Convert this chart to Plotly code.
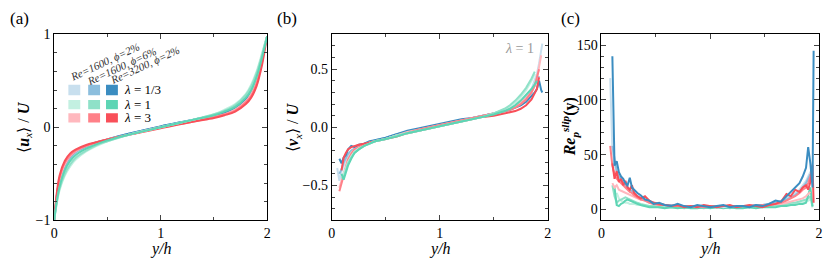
import plotly.graph_objects as go

# ---------------- data ----------------
colors = {
    "B1": "#c8dfee", "B2": "#8cbedd", "B3": "#3b8dc1",
    "G1": "#c3f0e1", "G2": "#8fe1c8", "G3": "#5dd5b4",
    "R1": "#ffb8be", "R2": "#ff8088", "R3": "#f94f59",
}
draw_order = ["B1", "B2", "B3", "R1", "R2", "R3", "G1", "G2", "G3"]

# panel (a): <u_x>/U
xa = [0, 0.02, 0.05, 0.1, 0.15, 0.2, 0.3, 0.4, 0.5, 0.7, 1.0, 1.3, 1.5, 1.6, 1.7, 1.8, 1.85, 1.9, 1.95, 1.98, 2.0]
ua = {
    "R3": [-1, -0.75, -0.52, -0.36, -0.28, -0.24, -0.19, -0.16, -0.13, -0.08, -0.01, 0.06, 0.10, 0.13, 0.17, 0.25, 0.32, 0.44, 0.66, 0.85, 0.98],
    "R2": [-1, -0.77, -0.55, -0.38, -0.30, -0.25, -0.20, -0.16, -0.13, -0.08, 0.00, 0.06, 0.11, 0.14, 0.18, 0.27, 0.34, 0.47, 0.69, 0.87, 0.98],
    "R1": [-1, -0.78, -0.57, -0.40, -0.31, -0.26, -0.20, -0.17, -0.13, -0.08, 0.00, 0.07, 0.11, 0.14, 0.19, 0.28, 0.36, 0.49, 0.71, 0.88, 0.98],
    "B3": [-1, -0.78, -0.56, -0.40, -0.31, -0.26, -0.20, -0.16, -0.13, -0.07, 0.01, 0.08, 0.13, 0.16, 0.21, 0.30, 0.38, 0.52, 0.73, 0.89, 0.98],
    "B2": [-1, -0.80, -0.58, -0.42, -0.33, -0.27, -0.21, -0.17, -0.13, -0.07, 0.01, 0.08, 0.13, 0.16, 0.21, 0.31, 0.39, 0.53, 0.74, 0.89, 0.98],
    "B1": [-1, -0.81, -0.60, -0.44, -0.34, -0.28, -0.21, -0.17, -0.13, -0.07, 0.01, 0.08, 0.13, 0.17, 0.22, 0.32, 0.41, 0.55, 0.76, 0.90, 0.98],
    "G3": [-1, -0.82, -0.64, -0.46, -0.36, -0.30, -0.23, -0.18, -0.14, -0.08, 0.00, 0.08, 0.13, 0.17, 0.22, 0.32, 0.40, 0.54, 0.74, 0.88, 0.98],
    "G2": [-1, -0.84, -0.66, -0.50, -0.40, -0.33, -0.25, -0.19, -0.15, -0.08, 0.00, 0.08, 0.14, 0.18, 0.24, 0.35, 0.44, 0.58, 0.77, 0.90, 0.98],
    "G1": [-1, -0.85, -0.68, -0.52, -0.42, -0.35, -0.26, -0.20, -0.15, -0.08, 0.00, 0.08, 0.14, 0.19, 0.25, 0.36, 0.46, 0.60, 0.79, 0.91, 0.98],
}

# panel (b): <v_x>/U
xb = [0.05, 0.07, 0.09, 0.11, 0.13, 0.15, 0.18, 0.21, 0.25, 0.30, 0.35, 0.40, 0.50, 0.60, 0.70, 0.80, 0.90, 1.00,
      1.10, 1.20, 1.30, 1.40, 1.50, 1.60, 1.65, 1.70, 1.75, 1.80, 1.85, 1.88, 1.90, 1.92, 1.94, 1.95]
vb = {
    "B1": [-0.35, -0.46, -0.38, -0.32, -0.28, -0.25, -0.22, -0.19, -0.17, -0.15, -0.13, -0.12, -0.09, -0.07, -0.04, -0.02, 0.00, 0.02,
           0.04, 0.06, 0.08, 0.10, 0.12, 0.15, 0.17, 0.19, 0.22, 0.26, 0.33, 0.40, 0.46, 0.55, 0.68, 0.72],
    "B2": [None, -0.40, -0.36, -0.30, -0.26, -0.23, -0.20, -0.18, -0.16, -0.14, -0.13, -0.11, -0.09, -0.06, -0.04, -0.02, 0.00, 0.02,
           0.04, 0.06, 0.08, 0.10, 0.12, 0.15, 0.16, 0.18, 0.21, 0.25, 0.31, 0.36, 0.40, 0.44, None, None],
    "B3": [None, -0.27, -0.31, -0.26, -0.24, -0.19, -0.16, -0.17, -0.15, -0.14, -0.12, -0.11, -0.09, -0.06, -0.03, -0.01, 0.01, 0.03,
           0.05, 0.07, 0.08, 0.10, 0.12, 0.14, 0.15, 0.17, 0.19, 0.22, 0.27, 0.30, 0.33, 0.40, 0.32, 0.30],
    "R1": [None, -0.52, -0.46, -0.38, -0.32, -0.27, -0.22, -0.19, -0.17, -0.15, -0.13, -0.12, -0.10, -0.07, -0.04, -0.02, 0.00, 0.02,
           0.04, 0.06, 0.08, 0.10, 0.12, 0.15, 0.16, 0.18, 0.21, 0.25, 0.30, 0.36, 0.42, 0.52, 0.62, None],
    "R2": [None, -0.55, -0.48, -0.40, -0.33, -0.28, -0.23, -0.19, -0.17, -0.15, -0.13, -0.12, -0.10, -0.07, -0.05, -0.02, 0.00, 0.02,
           0.04, 0.06, 0.08, 0.10, 0.12, 0.14, 0.15, 0.17, 0.20, 0.24, 0.30, 0.36, 0.42, 0.50, None, None],
    "R3": [None, None, -0.37, -0.26, -0.22, -0.19, -0.17, -0.16, -0.15, -0.14, -0.13, -0.12, -0.10, -0.08, -0.05, -0.03, -0.01, 0.01,
           0.03, 0.05, 0.07, 0.09, 0.10, 0.12, 0.13, 0.14, 0.16, 0.19, 0.24, 0.29, 0.33, 0.43, None, None],
    "G1": [None, None, -0.42, -0.40, -0.35, -0.30, -0.25, -0.21, -0.18, -0.16, -0.14, -0.12, -0.10, -0.07, -0.05, -0.03, -0.01, 0.01,
           0.03, 0.05, 0.07, 0.09, 0.12, 0.15, 0.18, 0.21, 0.26, 0.32, 0.40, 0.46, None, None, None, None],
    "G2": [None, None, -0.44, -0.43, -0.37, -0.31, -0.26, -0.22, -0.19, -0.16, -0.14, -0.12, -0.10, -0.07, -0.05, -0.03, -0.01, 0.01,
           0.03, 0.05, 0.07, 0.09, 0.12, 0.16, 0.19, 0.23, 0.28, 0.34, 0.42, 0.48, None, None, None, None],
    "G3": [None, None, -0.40, -0.45, -0.39, -0.33, -0.27, -0.22, -0.19, -0.16, -0.14, -0.12, -0.10, -0.08, -0.05, -0.03, -0.01, 0.01,
           0.03, 0.05, 0.07, 0.09, 0.11, 0.14, 0.16, 0.19, 0.23, 0.28, 0.33, 0.37, 0.40, None, None, None],
}

# panel (c): Re_p^slip(y)
xc = [0.06, 0.08, 0.10, 0.12, 0.14, 0.16, 0.18, 0.20, 0.22, 0.24, 0.26, 0.28, 0.30, 0.33, 0.36, 0.40, 0.44, 0.48,
      0.53, 0.58, 0.64, 0.70, 0.76, 0.82, 0.88, 0.94, 1.00, 1.06, 1.12, 1.18, 1.24, 1.30, 1.36, 1.42, 1.48, 1.54,
      1.60, 1.65, 1.70, 1.74, 1.78, 1.82, 1.85, 1.88, 1.90, 1.92, 1.94, 1.95]
rc = {
    "B1": [None, 120, 55, 40, 35, 30, 28, 25, 22, 20, 18, 16, 14, 12, 10, 8, 6, 5, 4, 4, 3, 3, 3, 3, 2, 3, 3, 3, 2, 3, 3, 3,
           3, 3, 4, 5, 6, 8, 10, 12, 15, 18, 22, 26, 30, 34, 36, None],
    "B2": [None, None, 58, 45, 35, 30, 27, 25, 22, 20, 18, 17, 15, 12, 11, 9, 7, 6, 5, 4, 4, 3, 3, 3, 3, 2, 3, 3, 3, 3, 2, 3,
           3, 4, 4, 5, 6, 7, 9, 11, 13, 16, 20, 24, 28, 32, 25, None],
    "B3": [None, None, 140, 40, 44, 34, 30, 28, 24, 22, 29, 20, 18, 15, 13, 9, 8, 5, 6, 4, 3, 5, 3, 2, 4, 3, 2, 3, 4, 2, 3, 3,
           2, 4, 3, 5, 8, 7, 12, 16, 20, 24, 30, 38, 57, 42, 20, 145],
    "R1": [None, None, 24, 20, 22, 18, 17, 16, 15, 14, 13, 12, 11, 10, 9, 8, 7, 6, 5, 4, 4, 3, 3, 3, 3, 3, 3, 3, 3, 3, 3, 3,
           3, 3, 4, 4, 5, 5, 6, 7, 8, 9, 10, 12, 14, 16, None, None],
    "R2": [None, 58, 40, 32, 28, 26, 24, 22, 20, 18, 16, 15, 13, 11, 9, 8, 6, 5, 4, 4, 3, 3, 3, 3, 3, 2, 3, 3, 3, 3, 3, 3,
           3, 3, 4, 4, 5, 6, 8, 10, 12, 15, 18, 20, 24, 30, 41, None],
    "R3": [None, None, 42, 28, 35, 25, 28, 22, 26, 20, 18, 22, 15, 12, 10, 12, 8, 6, 5, 4, 3, 4, 2, 3, 2, 4, 3, 2, 3, 4, 2, 3,
           4, 3, 2, 4, 5, 7, 14, 12, 18, 16, 20, 22, 18, 25, 40, 6],
    "G1": [None, None, None, None, 15, 10, 8, 7, 6, 6, 5, 5, 5, 4, 4, 3, 3, 3, 2, 2, 2, 2, 2, 2, 2, 2, 2, 2, 2, 2, 2, 2,
           2, 2, 3, 3, 3, 4, 4, 5, 5, 6, 6, 7, 8, 9, None, None],
    "G2": [None, None, 22, 12, 6, 8, 9, 10, 11, 10, 9, 8, 7, 6, 5, 4, 3, 3, 2, 2, 2, 2, 1, 2, 2, 1, 2, 2, 2, 1, 2, 2,
           2, 2, 3, 3, 4, 4, 5, 6, 6, 7, 8, 9, 10, 12, 2, None],
    "G3": [None, None, None, 20, 4, 3, 5, 6, 8, 9, 8, 7, 6, 5, 4, 3, 2, 2, 2, 1, 2, 1, 2, 1, 1, 2, 1, 2, 1, 2, 1, 1,
           2, 1, 2, 2, 2, 3, 3, 4, 4, 5, 5, 6, 12, 20, 3, None],
}

legend_cols = ["Re=1600, ϕ=2%", "Re=1600, ϕ=6%", "Re=3200, ϕ=2%"]
legend_rows = ["λ = 1/3", "λ = 1", "λ = 3"]
legend_keys = [["B1", "B2", "B3"], ["G1", "G2", "G3"], ["R1", "R2", "R3"]]

# ---------------- figure ----------------
W, H = 830, 267
FONT = "Liberation Serif"
fig = go.Figure()

for k in draw_order:
    fig.add_trace(go.Scatter(x=xa, y=ua[k], mode="lines", line=dict(color=colors[k], width=2, shape="spline"),
                             xaxis="x", yaxis="y", showlegend=False))
for k in draw_order:
    fig.add_trace(go.Scatter(x=xb, y=vb[k], mode="lines", line=dict(color=colors[k], width=2),
                             xaxis="x2", yaxis="y2", showlegend=False))
for k in ["G1", "G2", "G3", "R1", "B1", "B2", "R2", "R3", "B3"]:
    fig.add_trace(go.Scatter(x=xc, y=rc[k], mode="lines", line=dict(color=colors[k], width=2),
                             xaxis="x3", yaxis="y3", showlegend=False))

ydom = [1 - 226 / H, 1 - 29 / H]
xd1 = [50.7 / W, 265.7 / W]
xd2 = [331 / W, 549 / W]
xd3 = [603.3 / W, 823 / W]

def xax(dom):
    return dict(domain=dom, range=[0, 2], dtick=1, tick0=0, ticks="inside", ticklen=5, tickwidth=1,
                minor=dict(dtick=0.5, ticks="inside", ticklen=3, tickwidth=1),
                showline=True, linecolor="black", linewidth=1, mirror="ticks", showgrid=False, zeroline=False,
                tickfont=dict(family=FONT, size=14, color="black"))

def yax(anchor, rng, dtick, mdtick, fmt=None):
    d = dict(domain=ydom, range=rng, dtick=dtick, ticks="inside", ticklen=5, tickwidth=1, anchor=anchor,
             minor=dict(dtick=mdtick, ticks="inside", ticklen=3, tickwidth=1),
             showline=True, linecolor="black", linewidth=1, mirror="ticks", showgrid=False, zeroline=False,
             tickfont=dict(family=FONT, size=14, color="black"))
    if fmt:
        d["tickformat"] = fmt
    return d

fig.update_layout(
    width=W, height=H, margin=dict(l=0, r=0, t=0, b=0),
    paper_bgcolor="white", plot_bgcolor="white",
    font=dict(family=FONT, color="black"),
    xaxis=dict(xax(xd1), anchor="y"),
    yaxis=yax("x", [-1, 1], 1, 0.2),
    xaxis2=dict(xax(xd2), anchor="y2"),
    yaxis2=yax("x2", [-0.8, 0.8], 0.5, 0.1, ".1f"),
    xaxis3=dict(xax(xd3), anchor="y3"),
    yaxis3=yax("x3", [-10, 160], 50, 10),
)

ann = []
def add_text(x, y, text, size, xref="paper", yref="paper", angle=0, color="black", xanchor="center"):
    ann.append(dict(x=x, y=y, xref=xref, yref=yref, text=text, showarrow=False, textangle=angle,
                    font=dict(family=FONT, size=size, color=color), xanchor=xanchor, yanchor="middle"))

# panel labels
add_text(16 / W, 1 - 12 / H, "(a)", 17)
add_text(286 / W, 1 - 12 / H, "(b)", 17)
add_text(572 / W, 1 - 12 / H, "(c)", 17)
# x titles
for xd in (xd1, xd2, xd3):
    add_text((xd[0] + xd[1]) / 2, 1 - 256 / H, "<i>y/h</i>", 16)
# y titles
add_text(21 / W, 1 - 127 / H, "⟨<b><i>u</i></b><sub><i>x</i></sub>⟩ / <b><i>U</i></b>", 16, angle=-90)
add_text(293 / W, 1 - 127 / H, "⟨<b><i>v</i></b><sub><i>x</i></sub>⟩ / <b><i>U</i></b>", 16, angle=-90)
add_text(571 / W, 1 - 127 / H, "<b><i>Re</i></b><sub><b><i>p</i></b></sub><sup><b><i>slip</i></b></sup><b>(y)</b>", 16, angle=-90)
# lambda = 1 label in (b)
add_text(521 / W, 1 - 44 / H, "<i>λ</i> = 1", 14, color="#999999")

# legend in (a): rotated column labels
col_centers = [(101, 58), (119, 63), (142, 61)]
for (cx, cy), lab in zip(col_centers, legend_cols):
    add_text(cx / W, 1 - cy / H, "<i>" + lab + "</i>", 11, angle=-25, color="#333333")

shapes = []
sq_x = [(65, 77), (85, 97), (103, 115)]
sq_y = [(82, 93), (98, 108), (112, 122)]
for r, row in enumerate(legend_keys):
    for c, k in enumerate(row):
        x0 = (sq_x[c][0] - 50.7) / 107.5
        x1 = (sq_x[c][1] - 50.7) / 107.5
        y1 = (127 - sq_y[r][0]) / 98.3
        y0 = (127 - sq_y[r][1]) / 98.3
        shapes.append(dict(type="rect", xref="x", yref="y", x0=x0, x1=x1, y0=y0, y1=y1,
                           fillcolor=colors[k], line=dict(width=0)))
    yc = (127 - (sq_y[r][0] + sq_y[r][1]) / 2) / 98.3
    lab = legend_rows[r].replace("λ", "<i>λ</i>")
    ann.append(dict(x=(120 - 50.7) / 107.5, y=yc, xref="x", yref="y", text=lab, showarrow=False,
                    font=dict(family=FONT, size=13, color="black"), xanchor="left", yanchor="middle",
                    borderpad=0))

fig.update_layout(annotations=ann, shapes=shapes)
fig.write_html("out.html", config={"displayModeBar": False},
               post_script="document.body.style.margin='0px';document.body.style.overflow='hidden';")
